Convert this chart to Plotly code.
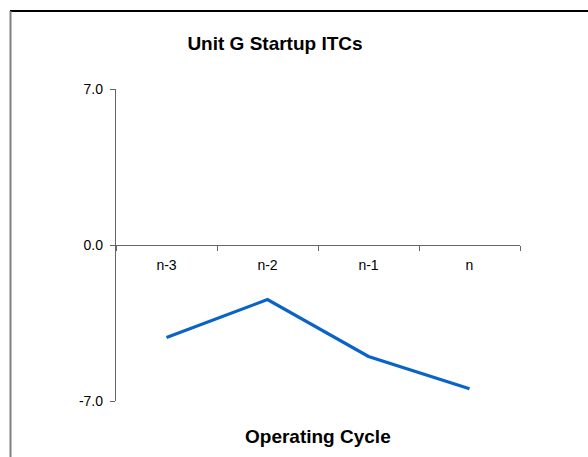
import plotly.graph_objects as go

categories = ["n-3", "n-2", "n-1", "n"]
itc_values = [-4.15, -2.45, -5.0, -6.45]
y_ticks = [-7.0, 0.0, 7.0]
y_tick_labels = ["-7.0", "0.0", "7.0"]

fig = go.Figure()
fig.add_trace(go.Scatter(
    x=categories, y=itc_values, mode="lines",
    line=dict(color="#0a64c8", width=3.2),
    hoverinfo="skip", showlegend=False,
))

W, H = 588, 457
L, R, T, B = 116, 520, 89, 401

def px(xp):
    return (xp - L) / (R - L)

def py(yp):
    return (B - yp) / (B - T)

fig.update_layout(
    width=W, height=H,
    margin=dict(l=L, r=W - R, t=T, b=H - B, pad=0),
    paper_bgcolor="white", plot_bgcolor="white",
    font=dict(family="Liberation Sans, Arial, sans-serif", size=14, color="black"),
    title=dict(text="<b>Unit G Startup ITCs</b>", font=dict(size=19, color="black"),
               xref="container", yref="container", x=275 / W, xanchor="center",
               y=1 - 43 / H, yanchor="middle"),
    xaxis=dict(type="category", anchor="free", position=0.5, range=[-0.5, 3.5],
               showline=True, linecolor="#666666", linewidth=1.3,
               ticks="outside", ticklen=5, tickcolor="#666666", tickson="boundaries",
               ticklabelstandoff=7, showgrid=False, zeroline=False,
               tickfont=dict(size=14)),
    yaxis=dict(range=[-7, 7], tickmode="array", tickvals=y_ticks, ticktext=y_tick_labels,
               showline=True, linecolor="#666666", linewidth=1.3,
               ticks="outside", ticklen=5, tickcolor="#666666",
               ticklabelstandoff=4, showgrid=False, zeroline=False,
               tickfont=dict(size=14)),
    annotations=[dict(text="<b>Operating Cycle</b>", xref="paper", yref="paper",
                      x=0.5, y=py(436), xanchor="center", yanchor="middle",
                      showarrow=False, font=dict(size=19, color="black"))],
    shapes=[
        dict(type="line", xref="paper", yref="paper", x0=px(10), x1=px(600),
             y0=py(11), y1=py(11), line=dict(color="black", width=2)),
        dict(type="line", xref="paper", yref="paper", x0=px(10.5), x1=px(10.5),
             y0=py(11), y1=py(480), line=dict(color="#808080", width=2)),
    ],
)

fig.write_html("out.html", config={"displayModeBar": False},
               post_script="document.body.style.margin='0';")
